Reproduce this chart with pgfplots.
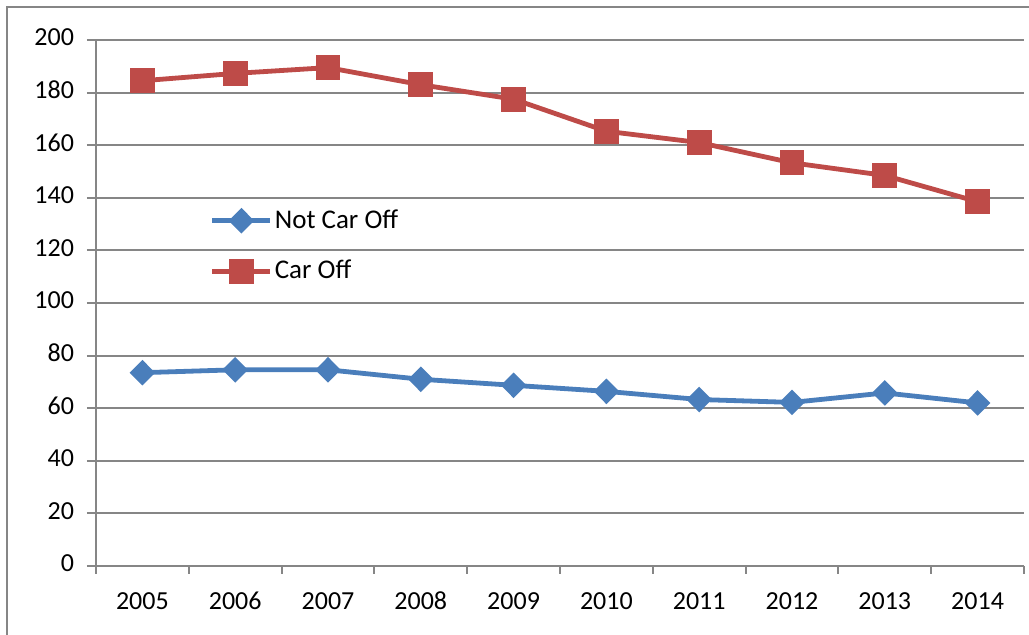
\documentclass[border=0pt]{standalone}
\usepackage{pgfplots}
\pgfplotsset{compat=1.18}
\usepackage{fontspec}
\setmainfont{Carlito}
\definecolor{notoff}{RGB}{74,126,187}
\definecolor{caroff}{RGB}{190,75,72}
\definecolor{gridgray}{RGB}{134,134,134}
\begin{document}
\fontsize{13}{15}\selectfont
\begin{tikzpicture}
\path[use as bounding box] (-48pt,-34.5pt) rectangle (466.5pt,283pt);
\draw[gridgray, line width=0.9pt] (-44.5pt,-40pt) -- (-44.5pt,279.5pt) -- (470pt,279.5pt);
\begin{axis}[
    at={(0,0)}, anchor=south west,
    scale only axis,
    width=464pt, height=263pt,
    xmin=0.5, xmax=10.5,
    ymin=0, ymax=200,
    xtick={1,...,10},
    xticklabels={2005,2006,2007,2008,2009,2010,2011,2012,2013,2014},
    minor xtick={0.5,1.5,...,10.5},
    ytick={0,20,...,200},
    axis x line*=bottom,
    axis y line*=left,
    axis line style={gridgray, line width=1pt, -},
    tick style={gridgray, line width=1pt},
    tick align=outside,
    major x tick style={draw=none},
    minor tick length=4pt,
    major tick length=4.5pt,
    ymajorgrids=true,
    grid style={gridgray, line width=1pt},
    /pgf/number format/assume math mode=true,
    /pgf/number format/1000 sep={},
    typeset ticklabels with strut,
    ticklabel style={font=\fontsize{13}{15}\selectfont, text=black},
    xticklabel style={yshift=-2pt},
    yticklabel style={xshift=-2pt},
    legend style={at={(rel axis cs:0.116,0.69)}, anchor=north west, draw=none, fill=none,
        font=\fontsize{13.5}{16}\selectfont, row sep=12pt,
        nodes={inner sep=1pt}},
    legend cell align=left,
    legend image code/.code={
        \draw[mark repeat=2,mark phase=2,#1] plot coordinates {(0pt,0pt) (14.5pt,0pt) (29pt,0pt)};
    },
]
\addplot[color=notoff, line width=2.4pt, mark=diamond*,
    mark options={solid, xscale=1.33, draw=none, fill=notoff}, mark size=4.7pt]
    coordinates {(1,73.5)(2,74.6)(3,74.6)(4,71.0)(5,68.7)(6,66.4)(7,63.3)(8,62.2)(9,65.8)(10,62.0)};
\addplot[color=caroff, line width=2.4pt, mark=square*,
    mark options={solid, draw=none, fill=caroff}, mark size=5pt]
    coordinates {(1,184.5)(2,187.3)(3,189.5)(4,183.0)(5,177.5)(6,165.3)(7,161.0)(8,153.3)(9,148.5)(10,138.5)};
\legend{Not Car Off, Car Off}
\end{axis}
\end{tikzpicture}
\end{document}
